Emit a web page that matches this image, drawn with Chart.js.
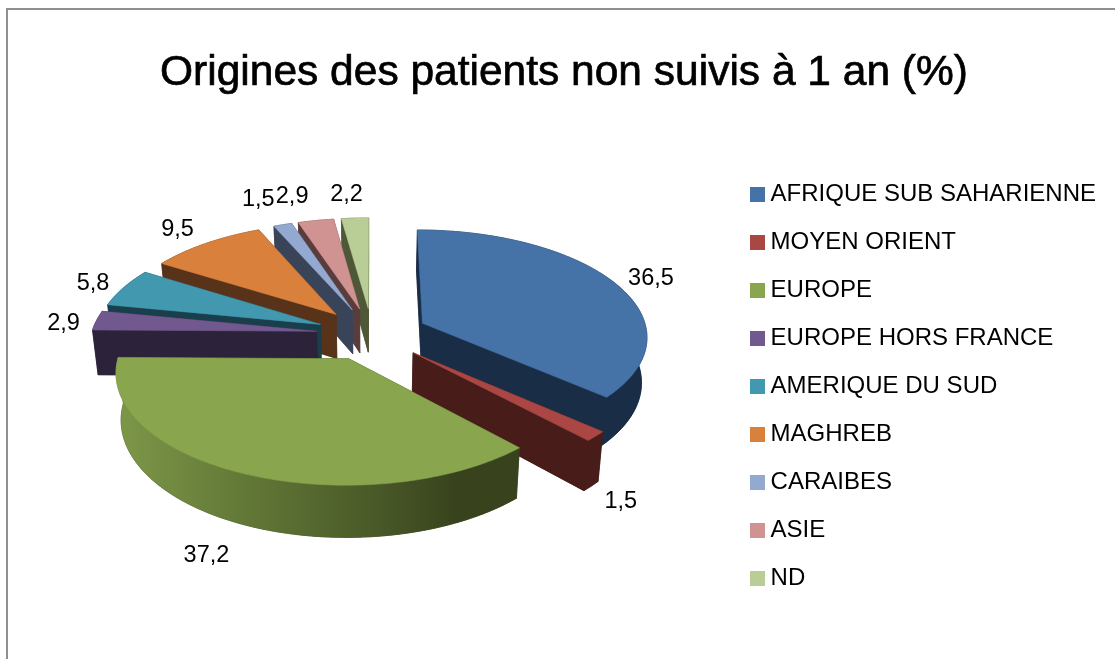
<!DOCTYPE html>
<html lang="fr">
<head>
<meta charset="utf-8">
<title>Origines des patients non suivis à 1 an (%)</title>
<script src="https://cdn.jsdelivr.net/npm/chart.js@4"></script>
<style>
html,body{margin:0;padding:0;background:#fff;overflow:hidden;width:1115px;height:659px}
.line{position:absolute;background:#8f8f8f}
#c{position:absolute;left:6px;top:8px}
</style>
</head>
<body>
<canvas id="c" width="1116" height="651"></canvas>
<div class="line" style="left:6px;top:8px;width:2px;height:651px"></div>
<div class="line" style="left:6px;top:8px;width:1109px;height:2px"></div>
<script>
const titleText = 'Origines des patients non suivis à 1 an (%)';
const categories = ['AFRIQUE SUB SAHARIENNE','MOYEN ORIENT','EUROPE','EUROPE HORS FRANCE','AMERIQUE DU SUD','MAGHREB','CARAIBES','ASIE','ND'];
const values = [36.5,1.5,37.2,2.9,5.8,9.5,1.5,2.9,2.2];
const topColors = ['#4572a7','#aa4643','#89a54e','#71588f','#4198af','#d9813c','#93a9cf','#d19392','#b9cd96'];
const sideColors = ['#1a2d47','#471c19',null,'#2c2239','#183f4b','#58331a','#3a4459','#5a3c3c','#4e5837'];
const drawOrder = [8,7,6,5,4,3,0,1,2];
const labelNudges = [[15,1],[1,4],[-21,14],[-7,4],[-8,0],[-14,-6],[-17,-16],[-19,-15],[-7,-14]];

const RADIUS = 225, EXPLODE = 56, THICK = 45;
const CAM = {x:366, y:326, dist:1995, tilt:0.4715, bottomShrink:0.98};
const FONT_FAMILY = '"Liberation Sans", Arial, sans-serif';
const TITLE_SIZE = 42.5, TITLE_TOP = 40;

function project(u, v, low){
  const s = CAM.dist/(CAM.dist - v);
  let x = u*s, y = CAM.tilt*v*s;
  if(low){ x *= CAM.bottomShrink; y += THICK*s; }
  return [CAM.x + x, CAM.y + y];
}
function trace(ctx, pts){
  ctx.beginPath();
  pts.forEach((p,i)=> i ? ctx.lineTo(p[0],p[1]) : ctx.moveTo(p[0],p[1]));
  ctx.closePath();
}
function paint(ctx, pts, fill){
  trace(ctx, pts);
  ctx.fillStyle = fill; ctx.strokeStyle = fill; ctx.lineWidth = 0.6;
  ctx.fill(); ctx.stroke();
}

const pie3d = {
  id:'pie3d',
  beforeDatasetsDraw(chart){
    const ctx = chart.ctx, arcs = chart.getDatasetMeta(0).data;
    const grad = ctx.createLinearGradient(112,0,450,0);
    grad.addColorStop(0,'#7d9748'); grad.addColorStop(0.35,'#647a38');
    grad.addColorStop(0.75,'#4a5a28'); grad.addColorStop(1,'#38431d');
    drawOrder.forEach(i=>{
      const a = arcs[i], mid = (a.startAngle+a.endAngle)/2, off = a.options.offset;
      const ou = off*Math.cos(mid), ov = off*Math.sin(mid);
      const rim = [], n = Math.max(2,Math.ceil((a.endAngle-a.startAngle)/0.015));
      for(let k=0;k<=n;k++){
        const t = a.startAngle+(a.endAngle-a.startAngle)*k/n;
        rim.push([ou+a.outerRadius*Math.cos(t), ov+a.outerRadius*Math.sin(t)]);
      }
      const apexT = project(ou,ov,false), apexB = project(ou,ov,true);
      const rimT = rim.map(p=>project(p[0],p[1],false));
      const rimB = rim.map(p=>project(p[0],p[1],true));
      const side = sideColors[i] || '#38431d';
      paint(ctx,[apexB,...rimB],side);
      paint(ctx,[apexT,apexB,rimB[0],rimT[0]],side);
      paint(ctx,[apexT,apexB,rimB[n],rimT[n]],side);
      paint(ctx,[...rimT,...rimB.slice().reverse()], sideColors[i] || grad);
      paint(ctx,[apexT,...rimT],a.options.backgroundColor);
    });
    return false;
  },
  afterDraw(chart){
    const ctx = chart.ctx, arcs = chart.getDatasetMeta(0).data;
    ctx.save();
    ctx.font = TITLE_SIZE+'px '+FONT_FAMILY;
    ctx.textAlign='center'; ctx.textBaseline='middle';
    ctx.strokeStyle='#000'; ctx.lineWidth=0.7;
    ctx.strokeText(titleText, chart.width/2, chart.titleBlock.top+TITLE_TOP+TITLE_SIZE*0.6);
    ctx.font = '23.5px '+FONT_FAMILY;
    ctx.fillStyle = '#000';
    arcs.forEach((a,i)=>{
      const mid = (a.startAngle+a.endAngle)/2, r = a.options.offset + a.outerRadius*1.12;
      const u = r*Math.cos(mid), v = r*Math.sin(mid);
      const p = project(u,v,v>0 && Math.cos(mid)>-0.9);
      const x = v>0 ? CAM.x+u*CAM.dist/(CAM.dist-v) : p[0];
      ctx.fillText(String(values[i]).replace('.',','), x+labelNudges[i][0], p[1]+labelNudges[i][1]);
    });
    ctx.restore();
  }
};

function swatch(color){
  const c = document.createElement('canvas');
  c.width = 15; c.height = 15;
  const g = c.getContext('2d'); g.fillStyle = color; g.fillRect(0,0,15,15);
  return c;
}

new Chart(document.getElementById('c'),{
  type:'pie',
  data:{labels:categories,datasets:[{data:values,backgroundColor:topColors,borderWidth:0,offset:EXPLODE}]},
  plugins:[pie3d],
  options:{
    responsive:false,animation:false,radius:RADIUS,
    events:[],
    layout:{padding:{left:16,right:16,top:0,bottom:0}},
    plugins:{
      tooltip:{enabled:false},
      title:{display:true,text:titleText,color:'#000',
        font:{family:FONT_FAMILY,size:TITLE_SIZE,weight:'normal'},
        padding:{top:TITLE_TOP,bottom:14}},
      legend:{position:'right',align:'center',fullSize:false,
        labels:{color:'#000',usePointStyle:true,pointStyleWidth:3,boxHeight:15,padding:24,
          font:{family:FONT_FAMILY,size:24},
          generateLabels(chart){
            return categories.map((t,i)=>({text:t,fillStyle:topColors[i],strokeStyle:topColors[i],lineWidth:0,
              pointStyle:swatch(topColors[i]),index:i,hidden:false}));
          }}}
    }
  }
});
</script>
</body>
</html>
